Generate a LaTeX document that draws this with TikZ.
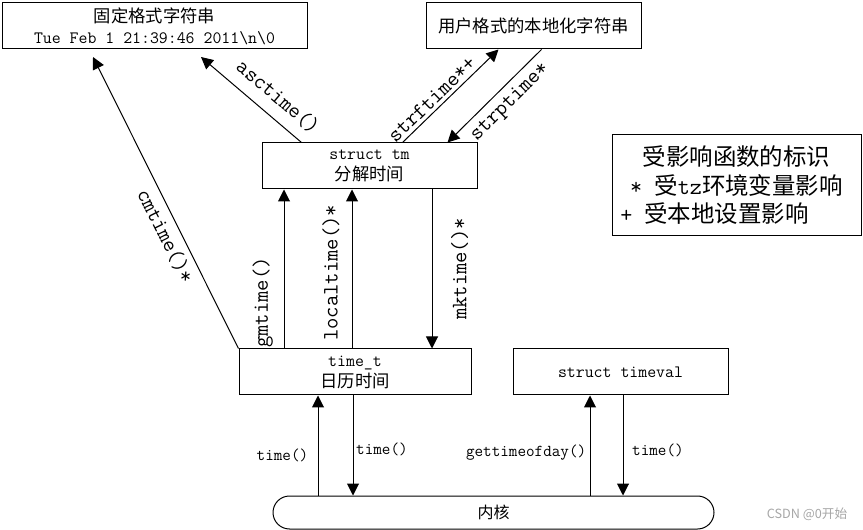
\documentclass[tikz,border=0pt]{standalone}
\usepackage{fontspec}
\newfontfamily\cjk{Noto Sans CJK SC}
\usetikzlibrary{arrows.meta}
\begin{document}
\begin{tikzpicture}[x=0.75pt,y=-0.75pt,
  box/.style={draw,line width=0.75pt,inner sep=0pt,minimum height=34.5pt,align=center,font=\fontsize{13}{15.75}\selectfont\ttfamily},
  arr/.style={line width=0.75pt,-{Triangle[length=9pt,width=9pt]}},
  lab/.style={font=\fontsize{16.5}{18}\selectfont\ttfamily},
  blab/.style={font=\fontsize{12.5}{14}\selectfont\ttfamily}]
 \useasboundingbox (0,0) rectangle (863,530);
 % boxes
 \node[box,minimum width=228.75pt] (fixed) at (154.5,26) {{\cjk 固定格式字符串}\\Tue Feb 1 21:39:46 2011\textbackslash n\textbackslash 0};
 \node[box,minimum width=161.25pt,font=\cjk\fontsize{13}{15.75}\selectfont] (user) at (533.5,26) {用户格式的本地化字符串};
 \node[box,minimum width=161.25pt] (tm) at (369.5,166) {struct tm\\{\cjk 分解时间}};
 \node[box,minimum width=174pt] (ttime) at (355,372) {time\_t\\{\cjk 日历时间}};
 \node[box,minimum width=161.25pt] (tval) at (620.5,372) {struct timeval};
 \node[box,minimum width=186.75pt,minimum height=75.75pt,font=\cjk\fontsize{17.6}{21.4}\selectfont] (legend) at (736.5,185.5) {受影响函数的标识\\{\ttfamily *\ }受{\ttfamily tz}环境变量影响\\{\ttfamily +\ }受本地设置影响\hspace*{33pt}};
 \node[draw,line width=0.75pt,rounded corners=12.375pt,minimum width=330.75pt,minimum height=24.75pt,font=\cjk\fontsize{12}{14}\selectfont] (kernel) at (493.5,512.5) {内核};
 \node[text=black!35,font=\cjk\fontsize{9.5}{11}\selectfont] (csdn) at (807,514) {CSDN @0开始};
 \coordinate (cmtip) at (93,57);
 \coordinate (asctip) at (201,57);
 % to the strings
 \draw[arr] (ttime.north west) -- node[pos=.41,sloped,below,lab,inner sep=4.5pt] (lcm) {cmtime()*} (cmtip);
 \draw[arr] ([xshift=30pt]tm.north west) -- node[pos=.36,sloped,above,lab,inner sep=8pt] (lasc) {asctime()} (asctip);
 \draw[arr] ([xshift=105.75pt]tm.north west) -- node[pos=.38,sloped,above,lab,inner sep=2.5pt] (lstrf) {strftime*+} ([xshift=54.75pt]user.south west);
 \draw[arr] ([xshift=87pt]user.south west) -- node[pos=.45,sloped,below,lab,inner sep=4.5pt] (lstrp) {strptime*} ([xshift=139.5pt]tm.north west);
 % time_t <-> struct tm
 \draw[arr] (ttime.north -| 284,0) -- node[pos=.29,lab,rotate=90,anchor=south,inner sep=8pt] (lgm) {gmtime()} (tm.south -| 284,0);
 \draw[arr] (ttime.north -| 352,0) -- node[pos=.475,lab,rotate=90,anchor=south,inner sep=9pt] (lloc) {localtime()*} (tm.south -| 352,0);
 \draw[arr] (tm.south -| 432,0) -- node[pos=.5,lab,rotate=90,anchor=north,inner sep=14pt] (lmk) {mktime()*} (ttime.north -| 432,0);
 % kernel
 \draw[arr] (kernel.north -| 318,0) -- node[pos=.4,left,blab,inner sep=7pt] (lt1) {time()} (ttime.south -| 318,0);
 \draw[arr] (ttime.south -| 353,0) -- node[pos=.54,right,blab,inner sep=2pt] (lt2) {time()} (kernel.north -| 353,0);
 \draw[arr] (kernel.north -| 590,0) -- node[pos=.43,left,blab,inner sep=2.5pt] (lgtod) {gettimeofday()} (tval.south -| 590,0);
 \draw[arr] (tval.south -| 623,0) -- node[pos=.55,right,blab,inner sep=6.5pt] (lt3) {time()} (kernel.north -| 623,0);
\end{tikzpicture}
\end{document}
